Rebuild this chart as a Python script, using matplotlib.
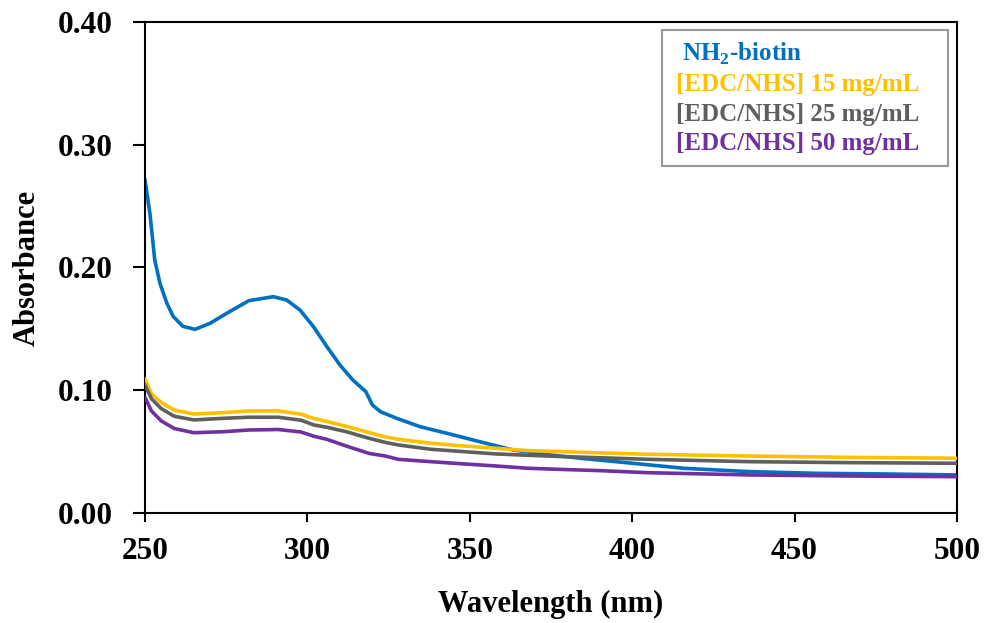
import numpy as np
import matplotlib
matplotlib.use('Agg')
import matplotlib.pyplot as plt
from matplotlib.lines import Line2D

plt.rcParams['font.family'] = ['Liberation Serif', 'DejaVu Serif']
plt.rcParams['font.weight'] = 'bold'
plt.rcParams['mathtext.fontset'] = 'custom'
plt.rcParams['mathtext.rm'] = 'Liberation Serif:bold'
plt.rcParams['mathtext.bf'] = 'Liberation Serif:bold'

# UV-Vis spectra (absorbance vs wavelength)
wl_biotin = [250, 251.5, 253, 254.6, 256.7, 258.7, 261.7, 265.4, 270, 276, 282, 289.5,
             293.6, 297.7, 301.8, 306, 310, 314, 318, 320, 322.5, 327.5, 334.7, 343,
             353, 363.4, 374, 384, 395, 416, 436, 457, 477, 500]
abs_biotin = [0.271, 0.244, 0.206, 0.187, 0.171, 0.160, 0.152, 0.1496, 0.1545, 0.164, 0.173, 0.1762,
              0.1735, 0.1654, 0.152, 0.1355, 0.1206, 0.1083, 0.0988, 0.088, 0.0825, 0.0771, 0.0703, 0.0649,
              0.0581, 0.0513, 0.0475, 0.0446, 0.0418, 0.0364, 0.0337, 0.0323, 0.0318, 0.031]

wl_edc = [250, 252, 255, 259, 265, 274, 282, 291, 298, 302, 306, 312, 319, 324, 328,
          338, 348, 358, 368, 378, 390, 405, 436, 467, 500]
abs_15 = [0.109, 0.097, 0.090, 0.0838, 0.0806, 0.0817, 0.0831, 0.0832, 0.0805, 0.077, 0.0745, 0.0705,
          0.0655, 0.062, 0.060, 0.0568, 0.0546, 0.0527, 0.0508, 0.050, 0.049, 0.0478, 0.0464, 0.0453, 0.0446]
abs_25 = [0.104, 0.093, 0.085, 0.0788, 0.0758, 0.0771, 0.078, 0.078, 0.0756, 0.0717, 0.0698, 0.0662,
          0.0608, 0.0575, 0.0554, 0.0519, 0.050, 0.0481, 0.047, 0.046, 0.045, 0.0437, 0.0418, 0.041, 0.0405]
abs_50 = [0.094, 0.083, 0.075, 0.0688, 0.0654, 0.0662, 0.0676, 0.068, 0.066, 0.0625, 0.060, 0.0545,
          0.0485, 0.0464, 0.0437, 0.0418, 0.040, 0.0383, 0.0364, 0.0355, 0.0345, 0.0328, 0.031, 0.0301, 0.0296]

labels = [r'NH$_\mathbf{2}$-biotin', '[EDC/NHS] 15 mg/mL', '[EDC/NHS] 25 mg/mL', '[EDC/NHS] 50 mg/mL']
colors = ['#0070C0', '#FFC000', '#5F5F5F', '#7030A0']

fig = plt.figure(figsize=(9.88, 6.23), dpi=100)
ax = fig.add_axes([0.1468, 0.1766, 0.8218, 0.7881])

# draw order: EDC series below, biotin on top of gray/yellow
ax.plot(wl_edc, abs_15, color=colors[1], lw=2.6, zorder=3)
ax.plot(wl_edc, abs_25, color=colors[2], lw=2.6, zorder=3)
ax.plot(wl_edc, abs_50, color=colors[3], lw=2.6, zorder=3)
ax.plot(wl_biotin, abs_biotin, color=colors[0], lw=2.6, zorder=2)

ax.set_xlim(250, 500)
ax.set_ylim(0, 0.40)
ax.set_xticks(np.arange(250, 501, 50))
ax.set_yticks(np.arange(0, 0.41, 0.1))
ax.set_yticklabels(['%.2f' % v for v in np.arange(0, 0.41, 0.1)])

for s in ax.spines.values():
    s.set_linewidth(1.5)
ax.tick_params(axis='both', labelsize=22.5, width=1.5, direction='out')
ax.tick_params(axis='y', length=9, pad=14)
ax.tick_params(axis='x', length=6.5, pad=11)

ax.set_xlabel('Wavelength (nm)', fontsize=22, fontweight='bold', labelpad=17)
ax.set_ylabel('Absorbance', fontsize=22, fontweight='bold', labelpad=12)

# text-only legend, trailing spaces leave room on the right of the box
handles = [Line2D([], [], color=c, lw=0) for c in colors]
leg_labels = [' ' + labels[0] + '   '] + [lab + '   ' for lab in labels[1:]]
leg = ax.legend(handles, leg_labels, loc='upper right', bbox_to_anchor=(0.989, 0.984),
                borderaxespad=0, handlelength=0.12, handletextpad=0,
                fancybox=False, frameon=True, prop={'size': 18, 'weight': 'bold'},
                labelspacing=0.25, borderpad=0.44)
leg.get_frame().set_edgecolor('#7F7F7F')
leg.get_frame().set_linewidth(1.5)
for t, c in zip(leg.get_texts(), colors):
    t.set_color(c)

fig.savefig('out.png', dpi=100)
